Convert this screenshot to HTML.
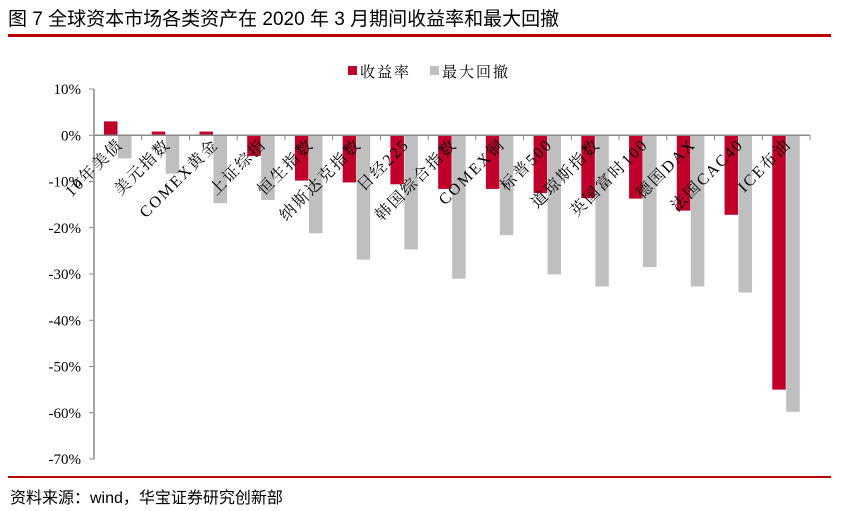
<!DOCTYPE html>
<html><head><meta charset="utf-8"><style>
body{margin:0;background:#fff;width:853px;height:511px;overflow:hidden;font-family:"Liberation Serif","Noto Serif CJK SC",serif}
</style></head><body>
<div style="position:absolute;left:8px;top:4px;font-size:19px;color:#000;font-family:'Liberation Sans','Noto Sans CJK SC',sans-serif">图 7 全球资本市场各类资产在 2020 年 3 月期间收益率和最大回撤</div>
<div style="position:absolute;left:8px;top:34px;width:823px;height:3px;background:#c00000"></div>
<div style="position:absolute;left:8px;top:476px;width:823px;height:2px;background:#c00000"></div>
<div style="position:absolute;left:10px;top:484px;font-size:16px;font-family:'Liberation Sans','Noto Sans CJK SC',sans-serif">资料来源：wind，华宝证券研究创新部</div>
<svg id="c" width="853" height="511" style="position:absolute;left:0;top:0"></svg>
<script>
const categories=["10年美债","美元指数","COMEX黄金","上证综指","恒生指数","纳斯达克指数","日经225","韩国综合指数","COMEX铜","标普500","道琼斯指数","英国富时100","德国DAX","法国CAC40","ICE布油"];
const returns=[3.0,0.8,0.8,-4.5,-9.8,-10.2,-10.6,-11.6,-11.6,-12.5,-13.6,-13.7,-16.3,-17.2,-55.0];
const drawdowns=[-5.0,-8.3,-14.7,-14.0,-21.2,-26.9,-24.7,-31.0,-21.6,-30.1,-32.7,-28.5,-32.7,-34.0,-59.8];
const yTicks=[10,0,-10,-20,-30,-40,-50,-60,-70];
const NS="http://www.w3.org/2000/svg",svg=document.getElementById('c');
const x0=94,x1=810,yTop=89,yBot=459;
const y=v=>yTop+(10-v)*(yBot-yTop)/80;
const bw=(x1-x0)/categories.length;
function mk(t,a){const e=document.createElementNS(NS,t);for(const k in a)e.setAttribute(k,a[k]);svg.appendChild(e);return e;}
const axis=mk('line',{x1:x0,y1:yTop,x2:x0,y2:yBot,stroke:'#888','stroke-width':1.5});


yTicks.forEach(t=>{
 const l=mk('line',{x1:x0-5,x2:x0,y1:y(t),y2:y(t),stroke:'#888'});
 
 
 const tx=mk('text',{x:x0-13,y:y(t)+5,'text-anchor':'end','font-size':15,fill:'#000'});
 tx.textContent=t+'%';
 
 
});
categories.forEach((c,i)=>{
 const bx=x0+i*bw;
 const r=mk('rect',{x:bx+10,y:Math.min(y(0),y(returns[i])),width:13.5,height:Math.abs(y(returns[i])-y(0)),fill:'#c0002a'});
 
 
 const g=mk('rect',{x:bx+24,y:Math.min(y(0),y(drawdowns[i])),width:13.5,height:Math.abs(y(drawdowns[i])-y(0)),fill:'#bfbfbf'});
 
 
});
const xa=mk('line',{x1:x0,y1:y(0),x2:x1,y2:y(0),stroke:'#888','stroke-width':1.5});


for(let i=0;i<=categories.length;i++){
 const t=mk('line',{x1:x0+i*bw,x2:x0+i*bw,y1:y(0),y2:y(0)+5,stroke:'#888'});
 
 
}
categories.forEach((c,i)=>{
 const cx=x0+i*bw+bw/2+6, cy=y(0)+10;
 const t=mk('text',{x:cx,y:cy,'text-anchor':'end','font-size':16,'letter-spacing':2,fill:'#000',transform:`rotate(-45 ${cx} ${cy})`});
 t.textContent=c;
 
 
});
const lg=[['收益率','#c0002a',348],['最大回撤','#bfbfbf',430]];
lg.forEach(([n,col,lx])=>{
 const r=mk('rect',{x:lx,y:66,width:9,height:9,fill:col});
 
 
 const t=mk('text',{x:lx+12,y:77,'font-size':15,'letter-spacing':2,fill:'#000'});
 t.textContent=n;
 
 
});
</script>
</body></html>
